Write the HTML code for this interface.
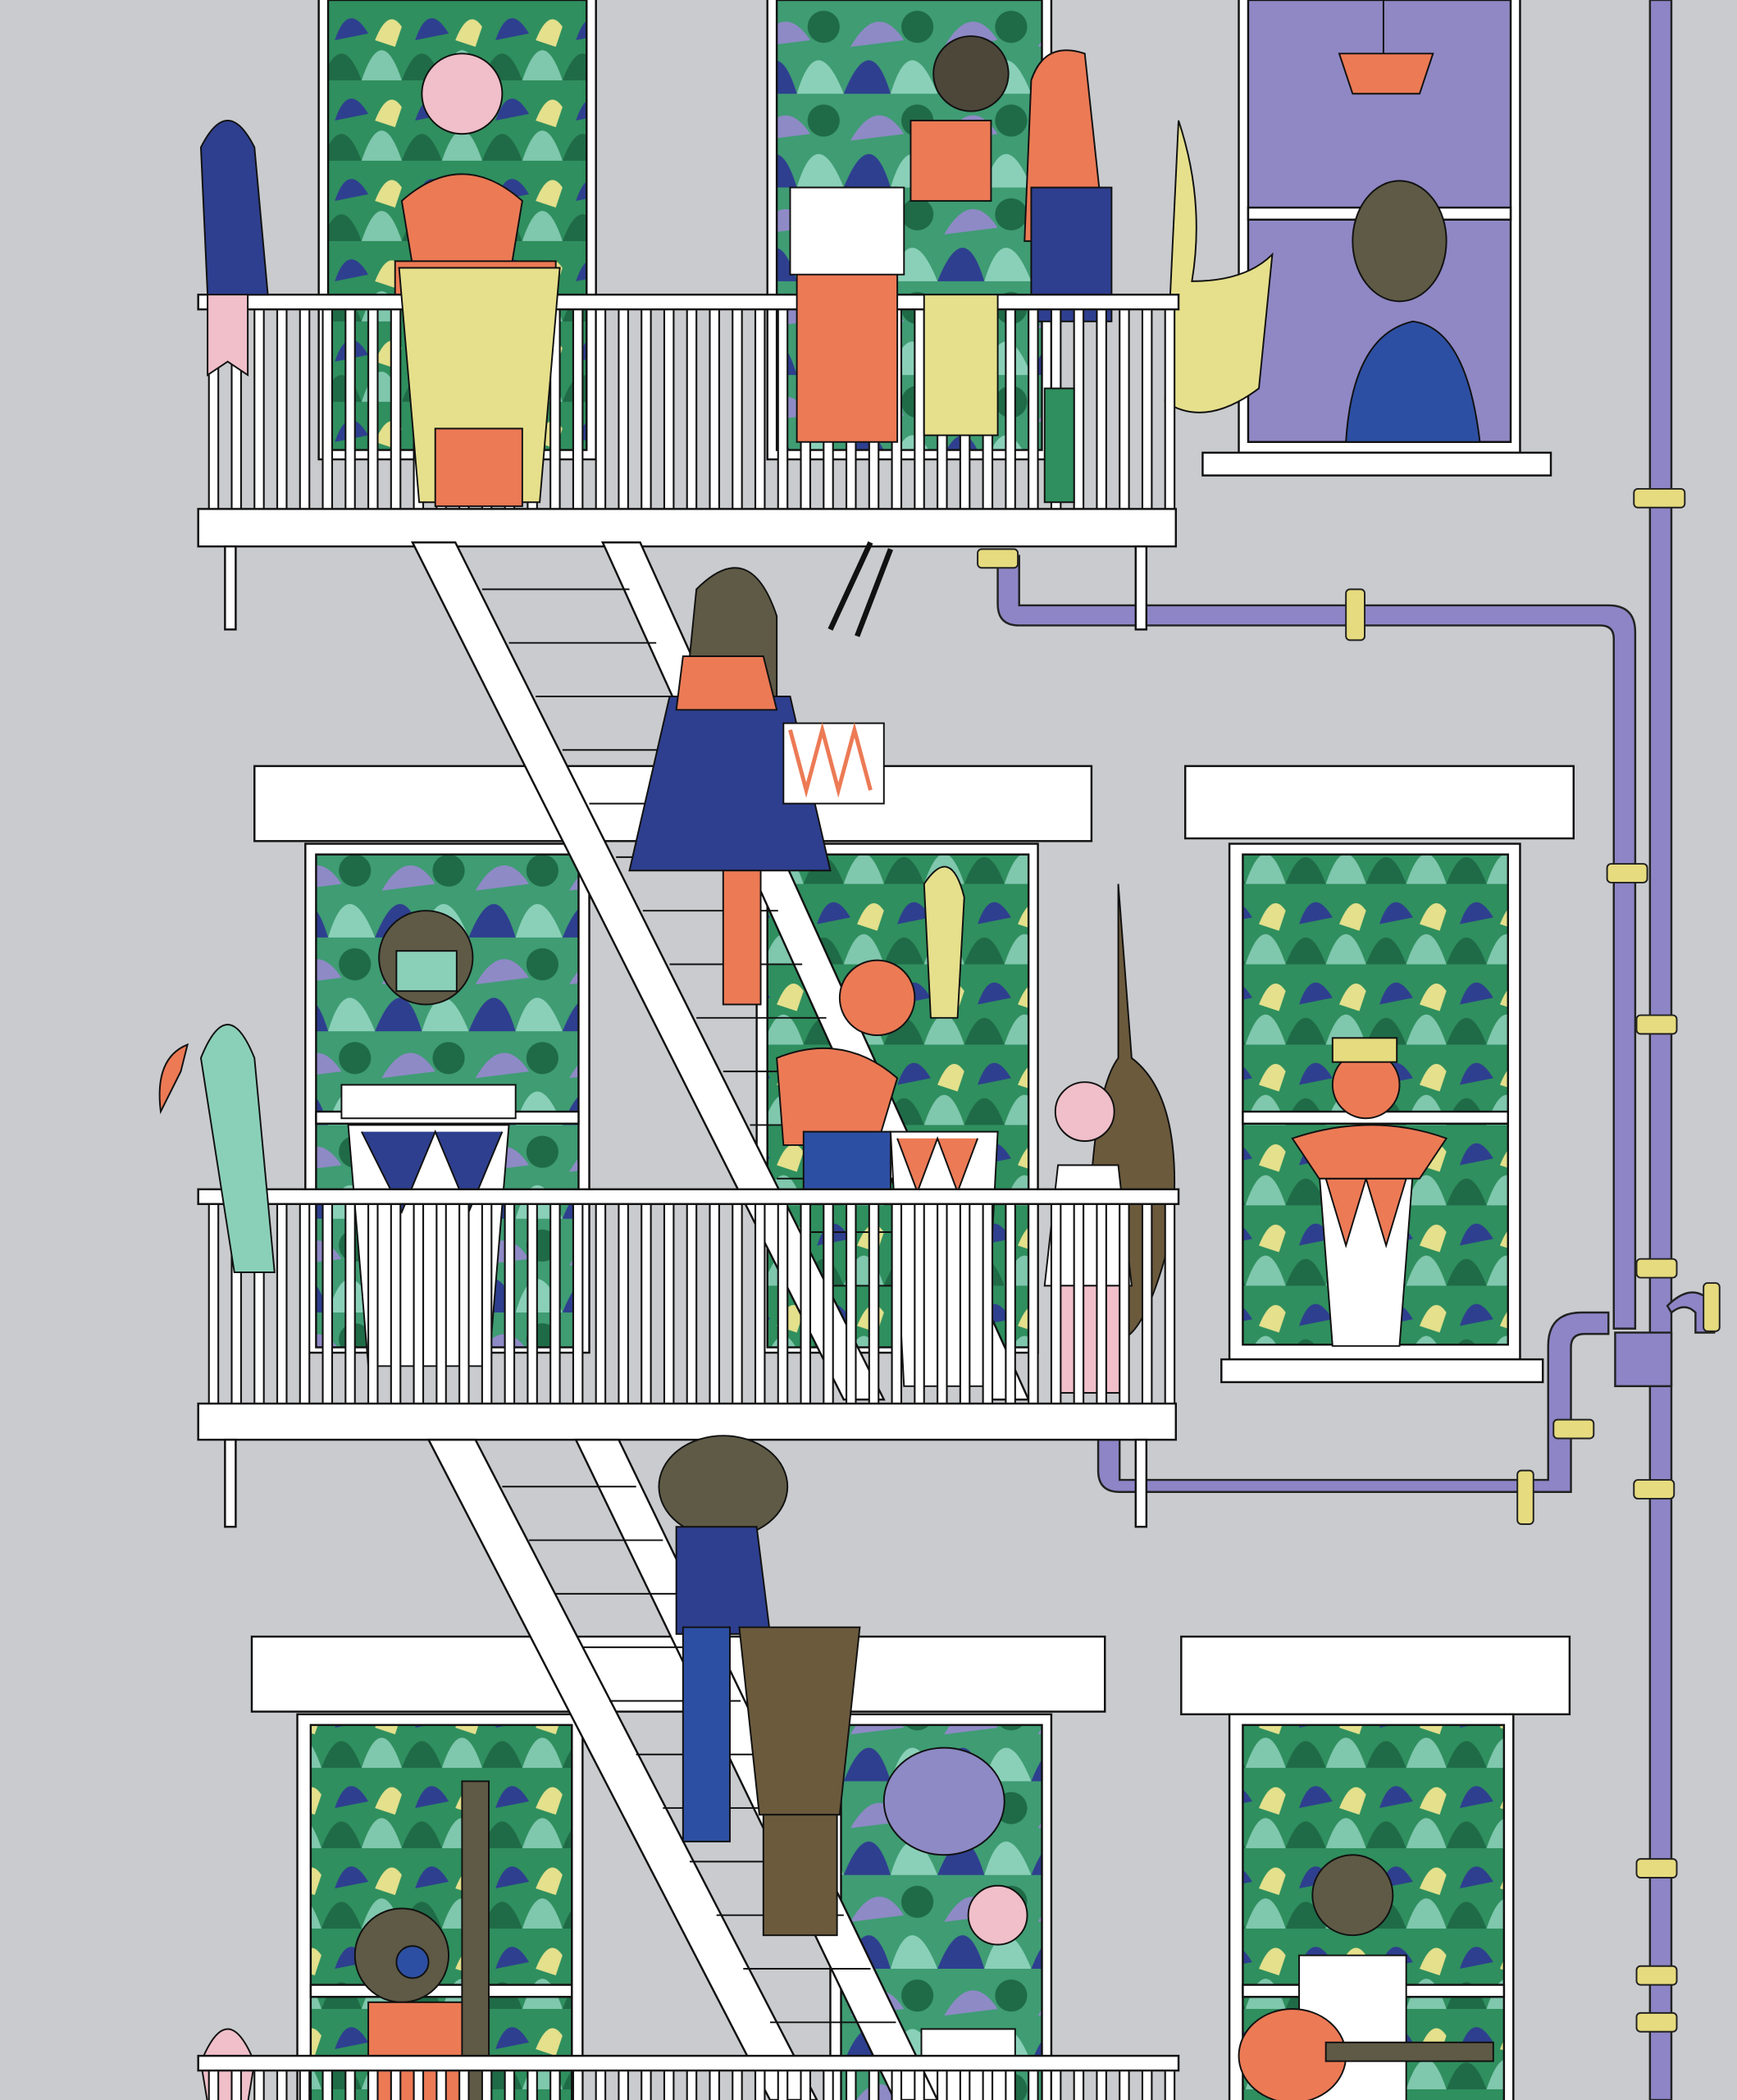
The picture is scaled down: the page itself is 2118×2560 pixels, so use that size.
<!DOCTYPE html>
<html><head><meta charset="utf-8">
<style>html,body{margin:0;padding:0;background:#c9cbce}svg{display:block}</style>
</head><body>
<svg width="2118" height="2560" viewBox="0 0 1297 1568" preserveAspectRatio="none" xmlns="http://www.w3.org/2000/svg">
<defs>
<pattern id="rail" x="0" y="0" width="17" height="10" patternUnits="userSpaceOnUse">
<rect x="0" y="0" width="17" height="10" fill="none"/>
<rect x="3" y="-1" width="7" height="12" fill="#fff" stroke="#111" stroke-width="1.3"/>
</pattern>
<pattern id="jungle" width="60" height="60" patternUnits="userSpaceOnUse">
<rect width="60" height="60" fill="#2f8f5e"/>
<path d="M0 60 Q15 20 30 60 Z" fill="#1f6b47"/>
<path d="M30 60 Q45 15 60 60 Z" fill="#7fc7ad"/>
<path d="M10 30 Q20 0 35 25 Z" fill="#2e3f8f"/>
<path d="M40 30 Q50 5 60 20 L55 35Z" fill="#e4e08c"/>
</pattern>
<pattern id="jungle2" width="70" height="70" patternUnits="userSpaceOnUse">
<rect width="70" height="70" fill="#3f9c73"/>
<path d="M0 70 Q20 20 35 70 Z" fill="#2e3f8f"/>
<path d="M35 70 Q50 20 70 70 Z" fill="#8ad0b8"/>
<path d="M5 35 Q25 0 45 30 Z" fill="#8e8ac6"/>
<circle cx="55" cy="20" r="12" fill="#1f6b47"/>
</pattern>
</defs>
<rect width="1297" height="1568" fill="#c9cbce"/>

<!-- PIPES -->
<g fill="#8d85c6" stroke="#222" stroke-width="1.5">
<rect x="1232" y="0" width="16" height="1568"/>
<path d="M745 415 h16 v37 h440 q20 0 20 20 v520 h-16 v-515 q0 -10 -10 -10 h-434 q-16 0 -16 -16 z"/>
<path d="M820 1075 h16 v30 h320 v-100 q0-25 25-25 h20 v16 h-18 q-10 0 -10 10 v108 h-337 q-16 0 -16 -16z"/>
<path d="M1245 975 q20 -20 35 0 v20 h-14 v-15 q-8 -8 -18 0z"/>
<rect x="1206" y="995" width="42" height="40"/>
</g>
<g fill="#e6db7e" stroke="#222" stroke-width="1.2">
<rect x="1220" y="365" width="38" height="14" rx="3"/>
<rect x="1005" y="440" width="14" height="38" rx="3"/>
<rect x="730" y="410" width="30" height="14" rx="3"/>
<rect x="1200" y="645" width="30" height="14" rx="3"/>
<rect x="1222" y="758" width="30" height="14" rx="3"/>
<rect x="1222" y="940" width="30" height="14" rx="3"/>
<rect x="1272" y="958" width="12" height="36" rx="3"/>
<rect x="1160" y="1060" width="30" height="14" rx="3"/>
<rect x="1220" y="1105" width="30" height="14" rx="3"/>
<rect x="1133" y="1098" width="12" height="40" rx="3"/>
<rect x="1222" y="1388" width="30" height="14" rx="3"/>
<rect x="1222" y="1468" width="30" height="14" rx="3"/>
<rect x="1222" y="1503" width="30" height="14" rx="3"/>
</g>

<!-- LINTELS -->
<g fill="#fff" stroke="#111" stroke-width="1.5">
<rect x="190" y="572" width="625" height="56"/>
<rect x="885" y="572" width="290" height="54"/>
<rect x="188" y="1222" width="637" height="56"/>
<rect x="882" y="1222" width="290" height="58"/>
</g>

<!-- WINDOWS -->
<g stroke="#111" stroke-width="1.5">
<rect x="238" y="-2" width="207" height="345" fill="#fff"/>
<rect x="245" y="0" width="193" height="336" fill="url(#jungle)"/>
<rect x="573" y="-2" width="212" height="345" fill="#fff"/>
<rect x="580" y="0" width="198" height="336" fill="url(#jungle2)"/>
<rect x="925" y="-2" width="210" height="340" fill="#fff"/>
<rect x="932" y="0" width="196" height="330" fill="#8f88c4"/>
<rect x="898" y="338" width="260" height="17" fill="#fff"/>
<rect x="932" y="155" width="196" height="9" fill="#fff"/>

<rect x="228" y="630" width="212" height="380" fill="#fff"/>
<rect x="236" y="638" width="196" height="368" fill="url(#jungle2)"/>
<rect x="565" y="630" width="210" height="380" fill="#fff"/>
<rect x="573" y="638" width="195" height="368" fill="url(#jungle)"/>
<rect x="918" y="630" width="217" height="385" fill="#fff"/>
<rect x="928" y="638" width="198" height="366" fill="url(#jungle)"/>
<rect x="912" y="1015" width="240" height="17" fill="#fff"/>
<rect x="236" y="830" width="196" height="9" fill="#fff"/>
<rect x="928" y="830" width="198" height="9" fill="#fff"/>

<rect x="222" y="1280" width="213" height="300" fill="#fff"/>
<rect x="232" y="1288" width="195" height="290" fill="url(#jungle)"/>
<rect x="620" y="1280" width="165" height="300" fill="#fff"/>
<rect x="628" y="1288" width="150" height="290" fill="url(#jungle2)"/>
<rect x="918" y="1280" width="212" height="300" fill="#fff"/>
<rect x="928" y="1288" width="195" height="290" fill="url(#jungle)"/>
<rect x="232" y="1482" width="195" height="9" fill="#fff"/>
<rect x="928" y="1482" width="195" height="9" fill="#fff"/>
</g>

<!-- Window people -->
<g stroke="#111" stroke-width="1.2">
<!-- top right man -->
<ellipse cx="1045" cy="180" rx="35" ry="45" fill="#5f5a45"/>
<path d="M1005 330 q5 -80 50 -90 q40 5 50 90z" fill="#2d4fa3"/>
<path d="M1000 40 h70 l-10 30 h-50z" fill="#ec7a55"/>
<line x1="1033" y1="0" x2="1033" y2="40"/>
<!-- top left person -->
<circle cx="345" cy="70" r="30" fill="#f0bfc9"/>
<path d="M300 150 q45 -40 90 0 l-10 60 h-70z" fill="#ec7a55"/>
<rect x="295" y="195" width="120" height="25" fill="#ec7a55"/>
<!-- sax girl & drummer -->
<circle cx="725" cy="55" r="28" fill="#4d473a"/>
<rect x="680" y="90" width="60" height="60" fill="#ec7a55"/>
<path d="M770 60 q10 -30 40 -20 l15 140 h-60z" fill="#ec7a55"/>
<rect x="770" y="140" width="60" height="100" fill="#2e3f8f"/>
<path d="M880 90 q20 60 10 120 q40 0 60 -20 l-10 100 q-40 30 -70 10z" fill="#e6e08c"/>
<!-- middle left masked -->
<circle cx="318" cy="715" r="35" fill="#5f5a45"/>
<rect x="296" y="710" width="45" height="30" fill="#8ad0b8"/>
<rect x="255" y="810" width="130" height="25" fill="#fff"/>
<path d="M260 840 h120 l-15 180 h-90z" fill="#fff"/>
<path d="M270 845 l30 60 l25 -60 l25 60 l25 -60" fill="#2e3f8f"/>
<!-- middle right -->
<circle cx="1020" cy="810" r="25" fill="#ec7a55"/>
<rect x="995" y="775" width="48" height="18" fill="#e6db7e"/>
<path d="M985 875 h70 l-10 130 h-50z" fill="#fff"/>
<path d="M990 880 l15 50 l15 -50 l15 50 l15 -50z" fill="#ec7a55"/>
<path d="M965 850 q60 -20 115 0 l-20 30 h-75z" fill="#ec7a55"/>
<!-- bottom right guitar -->
<circle cx="1010" cy="1415" r="30" fill="#5f5a45"/>
<rect x="970" y="1460" width="80" height="110" fill="#fff"/>
<ellipse cx="965" cy="1535" rx="40" ry="35" fill="#ec7a55"/>
<rect x="990" y="1525" width="125" height="14" fill="#5f5a45"/>
<!-- bottom left headphones -->
<circle cx="300" cy="1460" r="35" fill="#5f5a45"/>
<circle cx="308" cy="1465" r="12" fill="#2d4fa3"/>
<rect x="275" y="1495" width="90" height="80" fill="#ec7a55"/>
<rect x="345" y="1330" width="20" height="240" fill="#5f5a45"/>
<!-- bottom middle -->
<ellipse cx="705" cy="1345" rx="45" ry="40" fill="#8e8ac6"/>
<circle cx="745" cy="1430" r="22" fill="#f0bfc9"/>
<rect x="688" y="1515" width="70" height="60" fill="#fff"/>
</g>

<!-- TOP BALCONY -->
<rect x="150" y="230" width="728" height="150" fill="url(#rail)"/>
<g stroke="#111" stroke-width="1.5" fill="#fff">
<rect x="148" y="220" width="732" height="11"/>
<rect x="148" y="380" width="730" height="28"/>
<rect x="168" y="408" width="8" height="62"/>
<rect x="848" y="408" width="8" height="62"/>
</g>
<!-- top balcony objects -->
<g stroke="#111" stroke-width="1.2">
<path d="M298 200 h120 l-15 175 h-90z" fill="#e6e08c"/>
<rect x="325" y="320" width="65" height="58" fill="#ec7a55"/>
<rect x="595" y="140" width="75" height="190" fill="#ec7a55"/>
<rect x="590" y="140" width="85" height="65" fill="#fff"/>
<rect x="690" y="220" width="55" height="105" fill="#e6e08c"/>
<rect x="780" y="290" width="22" height="85" fill="#2f8f5e"/>
<path d="M150 110 q20 -40 40 0 l10 110 h-45z" fill="#2e3f8f"/>
<path d="M155 220 v60 l15 -10 l15 10 v-60z" fill="#f0bfc9"/>
</g>

<!-- STAIRS 1 -->
<g stroke="#111" stroke-width="1.5" fill="#fff">
<path d="M308 405 L340 405 L660 1045 L630 1045Z"/>
<path d="M450 405 L478 405 L768 1045 L740 1045Z"/>
</g>
<g stroke="#111" stroke-width="1.2">
<line x1="360" y1="440" x2="470" y2="440"/><line x1="380" y1="480" x2="490" y2="480"/>
<line x1="400" y1="520" x2="508" y2="520"/><line x1="420" y1="560" x2="526" y2="560"/>
<line x1="440" y1="600" x2="545" y2="600"/><line x1="460" y1="640" x2="563" y2="640"/>
<line x1="480" y1="680" x2="581" y2="680"/><line x1="500" y1="720" x2="599" y2="720"/>
<line x1="520" y1="760" x2="617" y2="760"/><line x1="540" y1="800" x2="635" y2="800"/>
<line x1="560" y1="840" x2="653" y2="840"/><line x1="580" y1="880" x2="671" y2="880"/>
<line x1="600" y1="920" x2="689" y2="920"/><line x1="620" y1="960" x2="707" y2="960"/>
</g>
<!-- drum girl on stairs -->
<g stroke="#111" stroke-width="1.2">
<path d="M520 440 q40 -40 60 20 l0 80 h-70z" fill="#5f5a45"/>
<path d="M500 520 h90 l30 130 h-150z" fill="#2e3f8f"/>
<path d="M510 490 h60 l10 40 h-75z" fill="#ec7a55"/>
<rect x="540" y="650" width="28" height="100" fill="#ec7a55"/>
<rect x="585" y="540" width="75" height="60" fill="#fff"/>
<path d="M590 545 l12 45 l12 -45 l12 45 l12 -45 l12 45" fill="none" stroke="#ec7a55" stroke-width="3"/>
<line x1="620" y1="470" x2="650" y2="405" stroke-width="4"/><line x1="640" y1="475" x2="665" y2="410" stroke-width="4"/>
</g>
<!-- middle stair kid & bassist -->
<g stroke="#111" stroke-width="1.2">
<circle cx="655" cy="745" r="28" fill="#ec7a55"/>
<path d="M580 790 q50 -20 90 15 l-15 50 h-70z" fill="#ec7a55"/>
<rect x="600" y="845" width="65" height="50" fill="#2d4fa3"/>
<path d="M665 845 h80 l-10 190 h-60z" fill="#fff"/>
<path d="M670 850 l15 40 l15 -40 l15 40 l15 -40" fill="#ec7a55"/>
<path d="M690 660 q20 -30 30 10 l-5 90 h-20z" fill="#e6e08c"/>
<path d="M835 660 l10 130 q40 30 30 130 q-20 80 -40 80 q-25 -50 -20 -120 q5 -70 20 -90z" fill="#6b5a3c"/>
<circle cx="810" cy="830" r="22" fill="#f0bfc9"/>
<path d="M790 870 h45 l10 90 h-65z" fill="#fff"/>
<rect x="786" y="960" width="55" height="80" fill="#f0bfc9"/>
</g>

<!-- MIDDLE BALCONY -->
<rect x="150" y="898" width="728" height="150" fill="url(#rail)"/>
<g stroke="#111" stroke-width="1.5" fill="#fff">
<rect x="148" y="888" width="732" height="11"/>
<rect x="148" y="1048" width="730" height="27"/>
<rect x="168" y="1075" width="8" height="65"/>
<rect x="848" y="1075" width="8" height="65"/>
</g>
<!-- parrot middle -->
<g stroke="#111" stroke-width="1.2">
<path d="M150 790 q20 -50 40 0 l15 160 h-30z" fill="#8ad0b8"/>
<path d="M140 780 q-25 10 -20 50 l15 -30z" fill="#ec7a55"/>
<path d="M150 1540 q20 -50 40 0 l-5 30 h-30z" fill="#f0bfc9"/>
</g>

<!-- STAIRS 2 -->
<g stroke="#111" stroke-width="1.5" fill="#fff">
<path d="M320 1075 L355 1075 L610 1568 L575 1568Z"/>
<path d="M430 1075 L462 1075 L700 1568 L668 1568Z"/>
</g>
<g stroke="#111" stroke-width="1.2">
<line x1="375" y1="1110" x2="475" y2="1110"/><line x1="395" y1="1150" x2="495" y2="1150"/>
<line x1="415" y1="1190" x2="514" y2="1190"/><line x1="435" y1="1230" x2="533" y2="1230"/>
<line x1="455" y1="1270" x2="553" y2="1270"/><line x1="475" y1="1310" x2="572" y2="1310"/>
<line x1="495" y1="1350" x2="592" y2="1350"/><line x1="515" y1="1390" x2="611" y2="1390"/>
<line x1="535" y1="1430" x2="630" y2="1430"/><line x1="555" y1="1470" x2="650" y2="1470"/>
<line x1="575" y1="1510" x2="669" y2="1510"/>
</g>
<!-- bottom stair drummer -->
<g stroke="#111" stroke-width="1.2">
<ellipse cx="540" cy="1110" rx="48" ry="38" fill="#5f5a45"/>
<path d="M505 1140 h60 l10 80 h-70z" fill="#2e3f8f"/>
<rect x="510" y="1215" width="35" height="160" fill="#2d4fa3"/>
<path d="M552 1215 h90 l-15 140 h-60z" fill="#6b5a3c"/>
<rect x="570" y="1355" width="55" height="90" fill="#6b5a3c"/>
</g>

<!-- BOTTOM BALCONY -->
<rect x="150" y="1545" width="728" height="30" fill="url(#rail)"/>
<rect x="148" y="1535" width="732" height="11" fill="#fff" stroke="#111" stroke-width="1.5"/>
</svg>
</body></html>
